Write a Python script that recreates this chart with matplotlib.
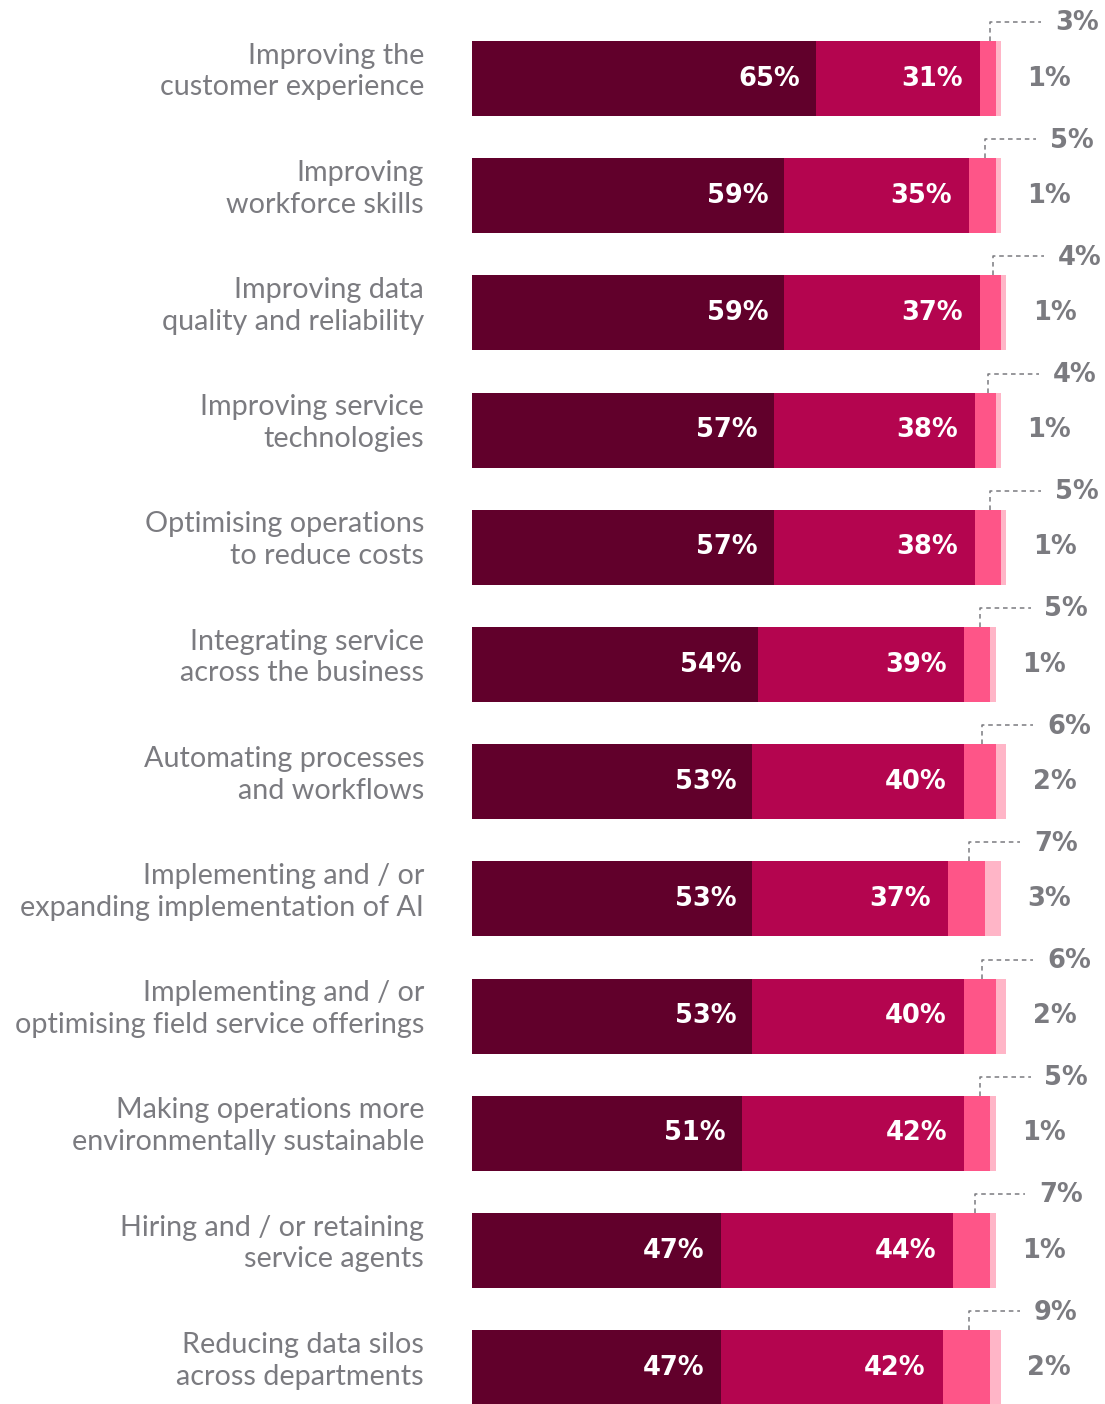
import matplotlib.pyplot as plt

plt.rcParams['font.family'] = ['Lato', 'DejaVu Sans']

categories = [
    "Improving the\ncustomer experience",
    "Improving\nworkforce skills",
    "Improving data\nquality and reliability",
    "Improving service\ntechnologies",
    "Optimising operations\nto reduce costs",
    "Integrating service\nacross the business",
    "Automating processes\nand workflows",
    "Implementing and / or\nexpanding implementation of AI",
    "Implementing and / or\noptimising field service offerings",
    "Making operations more\nenvironmentally sustainable",
    "Hiring and / or retaining\nservice agents",
    "Reducing data silos\nacross departments",
]
very_important = [65, 59, 59, 57, 57, 54, 53, 53, 53, 51, 47, 47]
important = [31, 35, 37, 38, 38, 39, 40, 37, 40, 42, 44, 42]
less_important = [3, 5, 4, 4, 5, 5, 6, 7, 6, 5, 7, 9]
not_important = [1, 1, 1, 1, 1, 1, 2, 3, 2, 1, 1, 2]

colors = ["#61002b", "#b4054f", "#fe5588", "#ffb5c7"]
gray = "#7b7b80"
num_font = ['DejaVu Sans']

W, H = 1105, 1404
fig = plt.figure(figsize=(W / 100, H / 100), dpi=100)
px = 5.29  # pixels per percent
ax = fig.add_axes([472 / W, 0, 110 * px / W, 1])
ax.set_xlim(0, 110)
step = 117.2
ax.set_ylim((H - 78.5) / step, -78.5 / step)
ax.axis('off')

n = len(categories)
ys = list(range(n))
bh = 0.64
left = [0] * n
series = [very_important, important, less_important, not_important]
for vals, c in zip(series, colors):
    ax.barh(ys, vals, left=left, height=bh, color=c, linewidth=0)
    left = [l + v for l, v in zip(left, vals)]

for i in range(n):
    a, b, c, d = very_important[i], important[i], less_important[i], not_important[i]
    # inner labels
    ax.text(a - 3, i, f"{a}%", ha='right', va='center', color='white',
            fontsize=18.5, fontweight='bold', family=num_font)
    ax.text(a + b - 3.2, i, f"{b}%", ha='right', va='center', color='white',
            fontsize=18.5, fontweight='bold', family=num_font)
    # third segment: leader line + label above
    xd = a + b + c / 2 + 0.5
    ytop = i - bh / 2
    yl = ytop - 19 / step
    ax.plot([xd, xd, xd + 9.6], [ytop, yl, yl], ls=(0, (3, 2.5)), lw=1.1,
            color=gray, clip_on=False)
    ax.text(xd + 12.2, yl + 1.5 / step, f"{c}%", ha='left', va='center', color=gray,
            fontsize=18.5, fontweight='bold', family=num_font, clip_on=False)
    # fourth segment label to the right
    ax.text(a + b + c + d + 5, i, f"{d}%", ha='left', va='center', color=gray,
            fontsize=18.5, fontweight='bold', family=num_font, clip_on=False)
    # category label
    ax.text(-48 / px, i - 0.06, categories[i], ha='right', va='center', color=gray,
            fontsize=20.7, linespacing=1.28, clip_on=False)

fig.savefig("out.png", dpi=100)
